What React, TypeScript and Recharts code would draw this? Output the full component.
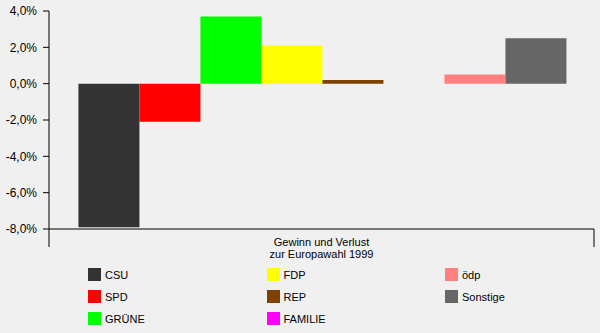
import { BarChart, Bar, XAxis, YAxis, Legend } from 'recharts';

const parties = ['CSU', 'SPD', 'GRÜNE', 'FDP', 'REP', 'FAMILIE', 'ödp', 'Sonstige'];
const changes = [-7.9, -2.1, 3.7, 2.1, 0.2, 0, 0.5, 2.5];
const colors = ['#333333', '#ff0000', '#00ff00', '#ffff00', '#804000', '#ff00ff', '#ff8080', '#666666'];
const categoryLines = ['Gewinn und Verlust', 'zur Europawahl 1999'];
const yTicks = [-8, -6, -4, -2, 0, 2, 4];

const row: Record<string, number | string> = { name: categoryLines.join(' ') };
parties.forEach((p, i) => {
  row[p] = changes[i];
});
const data = [row];

const fmt = (v: number) => `${v.toFixed(1).replace('.', ',')}%`;

const FONT = '"Liberation Sans", Arial, sans-serif';

// category label plus the little ticks at both ends of the band
const CategoryTick = (props: any) => {
  const { x, y, payload } = props;
  const half = payload && payload.offset ? payload.offset : 272.5;
  return (
    <g>
      <line x1={x - half} y1={y} x2={x - half} y2={y + 18} stroke="#000" />
      <line x1={x + half} y1={y} x2={x + half} y2={y + 18} stroke="#000" />
      {categoryLines.map((t, i) => (
        <text key={t} x={x} y={y + 17 + i * 11.5} textAnchor="middle" fontSize={11} fontFamily={FONT} fill="#000">
          {t}
        </text>
      ))}
    </g>
  );
};

const LegendGrid = ({ payload }: any) => {
  // keep the series order, laid out column by column
  const items = [...(payload || [])].sort(
    (a: any, b: any) => parties.indexOf(a.value) - parties.indexOf(b.value)
  );
  return (
    <div
      style={{
        display: 'grid',
        gridAutoFlow: 'column',
        gridTemplateRows: 'repeat(3, 22px)',
        gridTemplateColumns: 'repeat(3, 178.5px)',
        fontFamily: FONT,
        fontSize: 11,
        color: '#000',
      }}
    >
      {items.map((entry: any) => (
        <div key={entry.value} style={{ display: 'flex', alignItems: 'center', height: 13 }}>
          <span style={{ width: 13, height: 13, background: entry.color, display: 'inline-block', marginRight: 4 }} />
          <span>{entry.value}</span>
        </div>
      ))}
    </div>
  );
};

export default function App() {
  return (
    <div style={{ position: 'absolute', left: 0, top: 0, width: 600, height: 333, background: '#f0f0f0' }}>
      <BarChart
        width={600}
        height={333}
        data={data}
        margin={{ top: 11, right: 6, left: 0, bottom: 74 }}
        barCategoryGap="5.4%"
        barGap={0}
      >
        <XAxis
          dataKey="name"
          axisLine={{ stroke: '#000' }}
          tickLine={false}
          tickSize={0}
          tickMargin={0}
          height={30}
          tick={<CategoryTick />}
          interval={0}
        />
        <YAxis
          width={49}
          domain={[-8, 4]}
          ticks={yTicks}
          tickFormatter={fmt}
          axisLine={{ stroke: '#000' }}
          tickLine={{ stroke: '#000' }}
          tickSize={6}
          tickMargin={6}
          tick={{ fill: '#000', fontSize: 12, fontFamily: FONT }}
          allowDataOverflow
        />
        <Legend
          layout="horizontal"
          verticalAlign="middle"
          align="center"
          content={<LegendGrid />}
          wrapperStyle={{ left: 88, top: 268, width: 540 }}
        />
        {parties.map((p, i) => (
          <Bar key={p} dataKey={p} fill={colors[i]} isAnimationActive={false} />
        ))}
      </BarChart>
    </div>
  );
}
